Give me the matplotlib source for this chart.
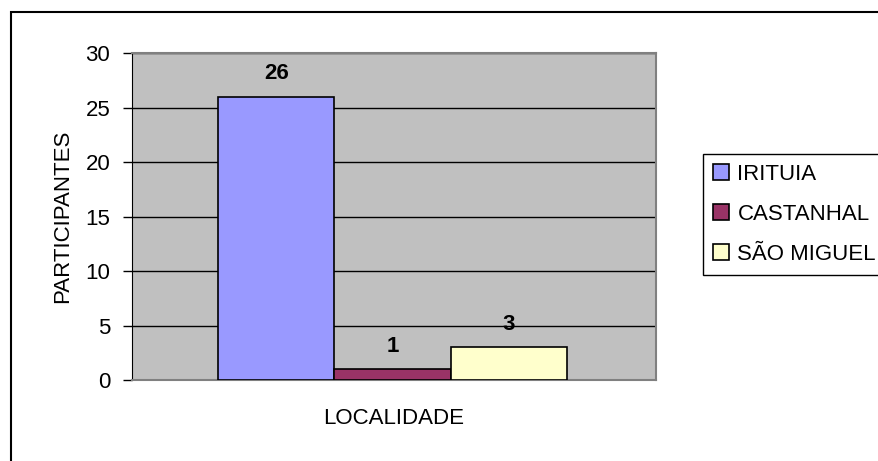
import matplotlib.pyplot as plt
from matplotlib.patches import Rectangle

# data
localidades = ['IRITUIA', 'CASTANHAL', 'SÃO MIGUEL']
participantes = [26, 1, 3]
cores = ['#9999FF', '#993366', '#FFFFCC']

plt.rcParams['font.family'] = ['Liberation Sans', 'DejaVu Sans']
fs = 16

fig = plt.figure(figsize=(8.79, 4.61), dpi=100)
ax = fig.add_axes([0.150, 0.1757, 0.596, 0.7093])
ax.set_facecolor('#C0C0C0')

# figure border (cut off on the right and bottom in the original)
fig.patches.append(Rectangle((0.0125, -0.05), 1.2, 1.024, transform=fig.transFigure,
                             fill=False, edgecolor='black', linewidth=1.5, clip_on=False))

posicoes = [-1, 0, 1]
for pos, nome, valor, cor in zip(posicoes, localidades, participantes, cores):
    b = ax.bar(pos, valor, width=1.0, color=cor, edgecolor='black', linewidth=1.2,
               label=nome, zorder=3)
    ax.bar_label(b, padding=9, fontsize=fs, fontweight='bold', zorder=4)

ax.set_xlim(-2.24, 2.26)
ax.set_ylim(0, 30)
ax.set_yticks(range(0, 31, 5))
ax.yaxis.grid(True, color='black', linewidth=1.0, zorder=1)
ax.set_axisbelow(True)
ax.set_xticks([])
ax.tick_params(axis='y', length=6.5, width=1, labelsize=fs, pad=9)

for s in ['top', 'right', 'bottom']:
    ax.spines[s].set_color('#808080')
    ax.spines[s].set_linewidth(1.5)
ax.spines['left'].set_color('black')

ax.set_ylabel('PARTICIPANTES', fontsize=fs, labelpad=9)
ax.set_xlabel('LOCALIDADE', fontsize=fs, labelpad=20)

leg = fig.legend(loc='upper left', bbox_to_anchor=(0.7998, 0.666), fontsize=fs,
                 frameon=True, fancybox=False, edgecolor='black', framealpha=1,
                 handlelength=0.7, handleheight=0.7, handletextpad=0.4,
                 labelspacing=0.85, borderpad=0.45, borderaxespad=0)
leg.get_frame().set_linewidth(1.0)

fig.savefig('out.png', dpi=100)
